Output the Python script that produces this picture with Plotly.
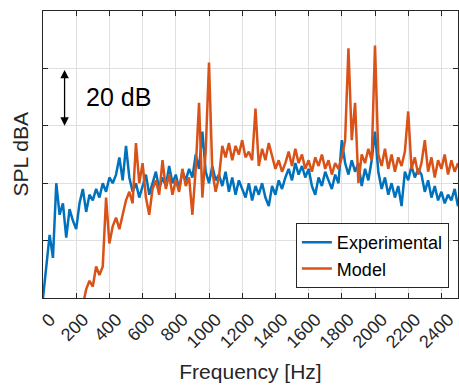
import plotly.graph_objects as go

# Spectrum bins (Hz), 20 Hz resolution
BIN_HZ = 20

# Measured SPL (dBA), bins starting at 0 Hz
experimental_db = [
    0, 10, 22, 14, 40, 29, 33, 21, 31, 27,
    24, 33, 38, 30, 36, 34, 38, 35, 40, 37,
    42, 40, 43, 49, 41, 53, 42, 37, 40, 35,
    39, 43, 36, 40, 44, 38, 42, 39, 46, 40,
    43, 38, 44, 41, 45, 42, 50, 45, 58, 44,
    40, 46, 41, 43, 39, 44, 37, 42, 36, 41,
    38, 35, 40, 34, 39, 36, 40, 35, 32, 39,
    36, 41, 38, 42, 45, 41, 47, 43, 46, 42,
    45, 39, 36, 42, 39, 44, 41, 38, 43, 40,
    55, 47, 43, 48, 44, 47, 39, 45, 41, 48,
    58, 44, 38, 42, 36, 40, 35, 39, 32, 44,
    41, 46, 42, 45, 43, 37, 41, 35, 39, 34,
    37, 33, 36, 34, 38, 32,
]

# Model SPL (dBA), bins starting at 220 Hz
MODEL_START_HZ = 220
model_db = [
    -8, -2, 3, 6, 4, 11, 8, 11, 35, 19,
    25, 28, 24, 29, 34, 37, 33, 54, 40, 47,
    35, 29, 38, 41, 36, 48, 38, 43, 36, 41,
    37, 45, 39, 42, 29, 45, 68, 35, 51, 82,
    44, 37, 42, 53, 49, 54, 48, 53, 50, 55,
    49, 51, 48, 66, 46, 52, 48, 54, 49, 45,
    48, 44, 47, 51, 46, 52, 47, 50, 45, 48,
    44, 49, 46, 50, 45, 48, 43, 47, 45, 49,
    55, 87, 55, 68, 40, 50, 47, 52, 48, 88,
    50, 46, 52, 45, 50, 44, 49, 46, 51, 65,
    45, 49, 43, 47, 55, 44, 49, 42, 48, 45,
    50, 43, 48, 44, 47,
]

freq_exp = [i * BIN_HZ for i in range(len(experimental_db))]
freq_model = [MODEL_START_HZ + i * BIN_HZ for i in range(len(model_db))]

x_ticks = list(range(0, 2401, 200))
y_ticks = list(range(0, 101, 20))

BLUE = "#0072BD"
ORANGE = "#D95319"
AXIS = "#262626"
GRID = "#dfdfdf"
FONT = "Liberation Sans, Arial, sans-serif"

fig = go.Figure()
fig.add_trace(go.Scatter(x=freq_exp, y=experimental_db, mode="lines",
                         name="Experimental", line=dict(color=BLUE, width=2.5)))
fig.add_trace(go.Scatter(x=freq_model, y=model_db, mode="lines",
                         name="Model", line=dict(color=ORANGE, width=2.5)))

# 20 dB scale bar
fig.add_annotation(x=130, y=60, ax=130, ay=80, xref="x", yref="y",
                   axref="x", ayref="y", text="", showarrow=True,
                   arrowhead=2, startarrowhead=2, arrowside="end+start",
                   arrowsize=1.3, startarrowsize=1.3, arrowwidth=1.3,
                   arrowcolor="black")
fig.add_annotation(x=245, y=70, xref="x", yref="y", text="20 dB",
                   showarrow=False, xanchor="left", yanchor="middle",
                   font=dict(family=FONT, size=25, color="black"))

# y-axis title (axis has no tick labels)
fig.add_annotation(x=0, y=0.5, xref="paper", yref="paper", text="SPL dBA",
                   textangle=-90, showarrow=False, xanchor="center",
                   yanchor="middle", xshift=-23,
                   font=dict(family=FONT, size=21, color=AXIS))

fig.update_layout(
    width=459, height=386,
    margin=dict(l=43, r=1, t=11, b=88),
    paper_bgcolor="white", plot_bgcolor="white",
    font=dict(family=FONT, color=AXIS),
    showlegend=True,
    legend=dict(x=0.978, y=0.035, xanchor="right", yanchor="bottom",
                bgcolor="white", bordercolor=AXIS, borderwidth=1,
                font=dict(family=FONT, size=18, color="black"),
                tracegroupgap=0, itemwidth=30),
)
fig.update_xaxes(
    range=[0, 2500], tickvals=x_ticks, tickangle=-45,
    tickfont=dict(size=18, color=AXIS),
    ticklabelshift=7, ticklabelstandoff=3,
    title=dict(text="Frequency [Hz]", font=dict(size=21, color=AXIS), standoff=13),
    showgrid=True, gridcolor=GRID, gridwidth=1,
    showline=True, linecolor=AXIS, linewidth=1, mirror="ticks",
    ticks="inside", ticklen=5, tickcolor=AXIS, zeroline=False,
)
fig.update_yaxes(
    range=[0, 100], tickvals=y_ticks, showticklabels=False,
    showgrid=True, gridcolor=GRID, gridwidth=1,
    showline=True, linecolor=AXIS, linewidth=1, mirror="ticks",
    ticks="inside", ticklen=5, tickcolor=AXIS, zeroline=False,
)

fig.write_html("out.html")
